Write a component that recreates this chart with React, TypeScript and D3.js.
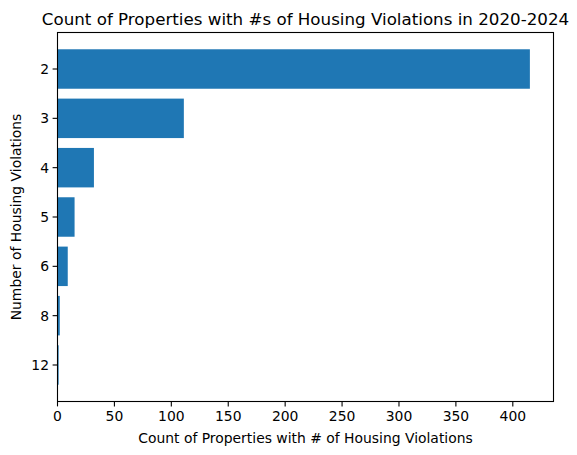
import React, { useEffect, useRef } from 'react';
import * as d3 from 'd3';

const categories: string[] = ['2', '3', '4', '5', '6', '8', '12'];
const counts: number[] = [415, 111, 32, 15, 9, 2, 1];
const xTicks: number[] = [0, 50, 100, 150, 200, 250, 300, 350, 400];

const W = 577;
const H = 455;
const margin = { top: 32.5, right: 23.5, bottom: 53.5, left: 57.5 };
const font = '"DejaVu Sans", sans-serif';

export default function App(): JSX.Element {
	const ref = useRef<SVGSVGElement | null>(null);

	useEffect(() => {
		if (!ref.current) return;
		const svg = d3.select(ref.current);
		svg.selectAll('*').remove();

		const iw = W - margin.left - margin.right;
		const ih = H - margin.top - margin.bottom;
		const maxV = d3.max(counts) as number;

		const x = d3.scaleLinear().domain([0, maxV * 1.05]).range([0, iw]);
		// categorical positions 0..n-1 with matplotlib-like margins
		const n = categories.length;
		const pad = (n - 1 + 0.8) * 0.05;
		const y = d3.scaleLinear().domain([-0.4 - pad, n - 1 + 0.4 + pad]).range([0, ih]);
		const barH = y(0.8) - y(0);

		const g = svg.append('g').attr('transform', `translate(${margin.left},${margin.top})`);

		g.selectAll('rect.bar')
			.data(counts)
			.enter()
			.append('rect')
			.attr('class', 'bar')
			.attr('x', x(0))
			.attr('y', (_, i) => y(i - 0.4))
			.attr('width', (d) => x(d) - x(0))
			.attr('height', barH)
			.attr('fill', '#1f77b4');

		// x axis
		const xa = g.append('g').attr('transform', `translate(0,${ih})`);
		xTicks.forEach((t) => {
			xa.append('line').attr('x1', x(t)).attr('x2', x(t)).attr('y1', 0).attr('y2', 4.9).attr('stroke', '#000').attr('stroke-width', 1.1);
			xa.append('text').attr('x', x(t)).attr('y', 19.5).attr('text-anchor', 'middle')
				.style('font-family', font).style('font-size', '13.9px').attr('fill', '#000').text(String(t));
		});

		// y axis
		const ya = g.append('g');
		categories.forEach((c, i) => {
			ya.append('line').attr('x1', -4.9).attr('x2', 0).attr('y1', y(i)).attr('y2', y(i)).attr('stroke', '#000').attr('stroke-width', 1.1);
			ya.append('text').attr('x', -8.5).attr('y', y(i)).attr('dy', '0.35em').attr('text-anchor', 'end')
				.style('font-family', font).style('font-size', '13.9px').attr('fill', '#000').text(c);
		});

		// frame
		g.append('rect').attr('x', 0).attr('y', 0).attr('width', iw).attr('height', ih)
			.attr('fill', 'none').attr('stroke', '#000').attr('stroke-width', 1.1);

		svg.append('text').attr('x', margin.left + iw / 2).attr('y', 24.5).attr('text-anchor', 'middle')
			.style('font-family', font).style('font-size', '16.7px').attr('fill', '#000')
			.text('Count of Properties with #s of Housing Violations in 2020-2024');

		svg.append('text').attr('x', margin.left + iw / 2).attr('y', 443).attr('text-anchor', 'middle')
			.style('font-family', font).style('font-size', '13.9px').attr('fill', '#000')
			.text('Count of Properties with # of Housing Violations');

		svg.append('text').attr('transform', `translate(21,${margin.top + ih / 2}) rotate(-90)`).attr('text-anchor', 'middle')
			.style('font-family', font).style('font-size', '13.9px').attr('fill', '#000')
			.text('Number of Housing Violations');
	}, []);

	return (
		<svg ref={ref} width={W} height={H} style={{ position: 'absolute', left: 0, top: 0, background: '#fff' }} />
	);
}
